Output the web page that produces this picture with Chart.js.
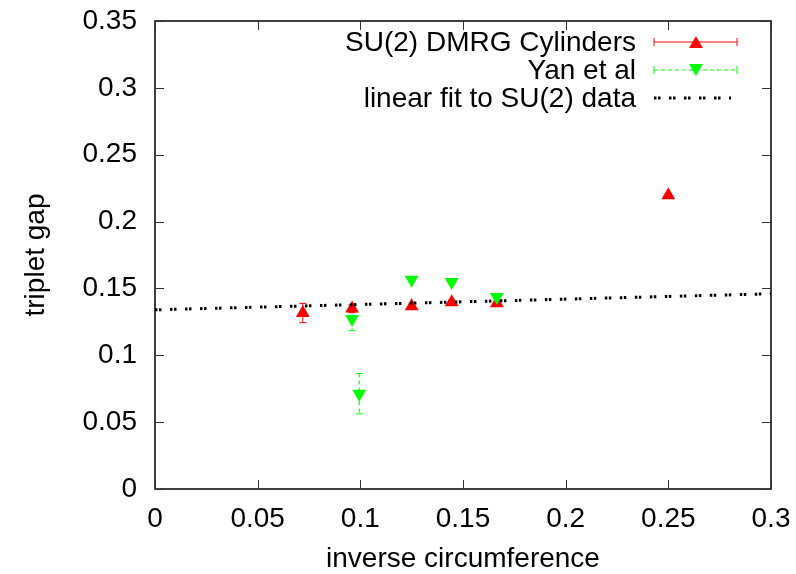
<!DOCTYPE html>
<html>
<head>
<meta charset="utf-8">
<script src="https://cdn.jsdelivr.net/npm/chart.js@4.4.0/dist/chart.umd.min.js"></script>
<style>
  html, body { margin: 0; padding: 0; background: #fff; }
  #wrap { width: 796px; height: 574px; }
</style>
</head>
<body>
<div id="wrap"><canvas id="gapChart" width="796" height="574"></canvas></div>
<script>
// values
const suX = [0.072, 0.096, 0.125, 0.1445, 0.1665, 0.25];
const suY = [0.1316, 0.1349, 0.1367, 0.1397, 0.139, 0.2197];
const suErr = [0.0072, 0.003, 0.0015, 0.0015, 0.0015, 0.001];

const yanX = [0.096, 0.0995, 0.125, 0.1445, 0.1665];
const yanY = [0.1272, 0.0713, 0.1565, 0.1548, 0.1436];
const yanErr = [0.0088, 0.0151, 0.001, 0.001, 0.001];

const fitX = [0, 0.3];
const fitY = [0.134, 0.146];

const xTicks = [0, 0.05, 0.1, 0.15, 0.2, 0.25, 0.3];
const xTickLabels = ['0', '0.05', '0.1', '0.15', '0.2', '0.25', '0.3'];
const yTicks = [0, 0.05, 0.1, 0.15, 0.2, 0.25, 0.3, 0.35];
const yTickLabels = ['0', '0.05', '0.1', '0.15', '0.2', '0.25', '0.3', '0.35'];

const legendLabels = ['SU(2) DMRG Cylinders', 'Yan et al', 'linear fit to SU(2) data'];

const RED = '#ff0000';
const GREEN = '#00ff00';
const FONT = "'Liberation Sans', Arial, Helvetica, sans-serif";
const FONT_SIZE = 28;
const FIT_DASH = [2.5, 1.5, 2.5, 8.5];

function toPoints(xs, ys) {
    return xs.map((x, i) => ({ x: x, y: ys[i] }));
}

// error bars, drawn under the markers
const errorBars = {
    id: 'errorBars',
    beforeDatasetsDraw(chart) {
        const ctx = chart.ctx;
        const xs = chart.scales.x, ys = chart.scales.y;
        const sets = [
            { x: suX, y: suY, e: suErr, color: RED, dash: [] },
            { x: yanX, y: yanY, e: yanErr, color: GREEN, dash: [4, 3] }
        ];
        ctx.save();
        ctx.lineWidth = 1;
        sets.forEach(s => {
            ctx.strokeStyle = s.color;
            s.x.forEach((xv, i) => {
                const px = xs.getPixelForValue(xv);
                const top = ys.getPixelForValue(s.y[i] + s.e[i]);
                const bot = ys.getPixelForValue(s.y[i] - s.e[i]);
                ctx.setLineDash(s.dash);
                ctx.beginPath();
                ctx.moveTo(px, top);
                ctx.lineTo(px, bot);
                ctx.stroke();
                ctx.setLineDash([]);
                ctx.beginPath();
                ctx.moveTo(px - 3.5, top);
                ctx.lineTo(px + 3.5, top);
                ctx.moveTo(px - 3.5, bot);
                ctx.lineTo(px + 3.5, bot);
                ctx.stroke();
            });
        });
        ctx.restore();
    }
};

// gnuplot style box with inward ticks on all sides
const frameBox = {
    id: 'frameBox',
    afterDatasetsDraw(chart) {
        const ctx = chart.ctx;
        const a = chart.chartArea;
        const xs = chart.scales.x, ys = chart.scales.y;
        ctx.save();
        ctx.strokeStyle = '#000';
        ctx.lineWidth = 1.5;
        ctx.strokeRect(a.left, a.top, a.right - a.left, a.bottom - a.top);
        ctx.lineWidth = 1;
        ctx.strokeStyle = '#333';
        ctx.beginPath();
        xTicks.forEach(v => {
            const px = Math.round(xs.getPixelForValue(v)) + 0.5;
            ctx.moveTo(px, a.bottom);
            ctx.lineTo(px, a.bottom - 9);
            ctx.moveTo(px, a.top);
            ctx.lineTo(px, a.top + 9);
        });
        yTicks.forEach(v => {
            const py = Math.round(ys.getPixelForValue(v)) + 0.5;
            ctx.moveTo(a.left, py);
            ctx.lineTo(a.left + 9, py);
            ctx.moveTo(a.right, py);
            ctx.lineTo(a.right - 9, py);
        });
        ctx.stroke();
        ctx.restore();
    }
};

// legend in the top right, text right aligned with the sample after it
const keyBox = {
    id: 'keyBox',
    afterDraw(chart) {
        const ctx = chart.ctx;
        const textRight = 636;
        const x0 = 654, x1 = 737, xm = 696;
        const rows = [42, 70, 98];
        ctx.save();
        ctx.font = FONT_SIZE + 'px ' + FONT;
        ctx.fillStyle = '#000';
        ctx.textAlign = 'right';
        ctx.textBaseline = 'middle';
        legendLabels.forEach((t, i) => ctx.fillText(t, textRight, rows[i] + 1));

        // red row
        ctx.strokeStyle = RED;
        ctx.lineWidth = 1;
        ctx.beginPath();
        ctx.moveTo(x0, rows[0]); ctx.lineTo(x1, rows[0]);
        ctx.moveTo(x0, rows[0] - 4); ctx.lineTo(x0, rows[0] + 4);
        ctx.moveTo(x1, rows[0] - 4); ctx.lineTo(x1, rows[0] + 4);
        ctx.stroke();
        ctx.fillStyle = RED;
        Chart.helpers.drawPoint(ctx, { pointStyle: 'triangle', radius: 8, rotation: 0, borderWidth: 0 }, xm, rows[0] + 2);

        // green row
        ctx.strokeStyle = GREEN;
        ctx.setLineDash([4, 3]);
        ctx.beginPath();
        ctx.moveTo(x0, rows[1]); ctx.lineTo(x1, rows[1]);
        ctx.stroke();
        ctx.setLineDash([]);
        ctx.beginPath();
        ctx.moveTo(x0, rows[1] - 4); ctx.lineTo(x0, rows[1] + 4);
        ctx.moveTo(x1, rows[1] - 4); ctx.lineTo(x1, rows[1] + 4);
        ctx.stroke();
        ctx.fillStyle = GREEN;
        Chart.helpers.drawPoint(ctx, { pointStyle: 'triangle', radius: 8, rotation: 180, borderWidth: 0 }, xm, rows[1] - 2);

        // fit row
        ctx.strokeStyle = '#000';
        ctx.lineWidth = 3;
        ctx.setLineDash(FIT_DASH);
        ctx.beginPath();
        ctx.moveTo(x0, rows[2]); ctx.lineTo(x1 - 6, rows[2]);
        ctx.stroke();
        ctx.restore();
    }
};

const ctx = document.getElementById('gapChart');

new Chart(ctx, {
    type: 'scatter',
    data: {
        datasets: [
            {
                label: legendLabels[0],
                data: toPoints(suX, suY),
                pointStyle: 'triangle',
                pointRadius: 8,
                pointHoverRadius: 8,
                pointBorderWidth: 0,
                backgroundColor: RED,
                borderColor: RED,
                order: 2
            },
            {
                label: legendLabels[1],
                data: toPoints(yanX, yanY),
                pointStyle: 'triangle',
                pointRotation: 180,
                pointRadius: 8,
                pointHoverRadius: 8,
                pointBorderWidth: 0,
                backgroundColor: GREEN,
                borderColor: GREEN,
                order: 1
            },
            {
                label: legendLabels[2],
                data: toPoints(fitX, fitY),
                showLine: true,
                pointRadius: 0,
                borderColor: '#000',
                borderWidth: 3,
                borderDash: FIT_DASH,
                order: 0
            }
        ]
    },
    options: {
        responsive: false,
        animation: false,
        events: [],
        layout: { padding: { top: 21, right: 25, left: 0, bottom: 0 } },
        plugins: {
            legend: { display: false },
            tooltip: { enabled: false }
        },
        scales: {
            x: {
                type: 'linear',
                min: 0,
                max: 0.3,
                grid: { display: false },
                border: { display: false },
                afterBuildTicks: s => { s.ticks = xTicks.map(v => ({ value: v })); },
                afterFit: s => { s.height = 85; },
                ticks: {
                    autoSkip: false,
                    maxRotation: 0,
                    padding: 5,
                    color: '#000',
                    font: { family: FONT, size: FONT_SIZE },
                    callback: (v, i) => xTickLabels[i]
                },
                title: {
                    display: true,
                    text: 'inverse circumference',
                    color: '#000',
                    font: { family: FONT, size: FONT_SIZE },
                    padding: { top: 0, bottom: -2 }
                }
            },
            y: {
                type: 'linear',
                min: 0,
                max: 0.35,
                grid: { display: false },
                border: { display: false },
                afterBuildTicks: s => { s.ticks = yTicks.map(v => ({ value: v })); },
                afterFit: s => { s.width = 155; },
                ticks: {
                    autoSkip: false,
                    padding: 10,
                    color: '#000',
                    font: { family: FONT, size: FONT_SIZE, lineHeight: 0.5 },
                    callback: (v, i) => yTickLabels[i]
                },
                title: {
                    display: true,
                    text: 'triplet gap',
                    color: '#000',
                    font: { family: FONT, size: FONT_SIZE },
                    padding: { top: 19, bottom: 0 }
                }
            }
        }
    },
    plugins: [errorBars, frameBox, keyBox]
});
</script>
</body>
</html>
